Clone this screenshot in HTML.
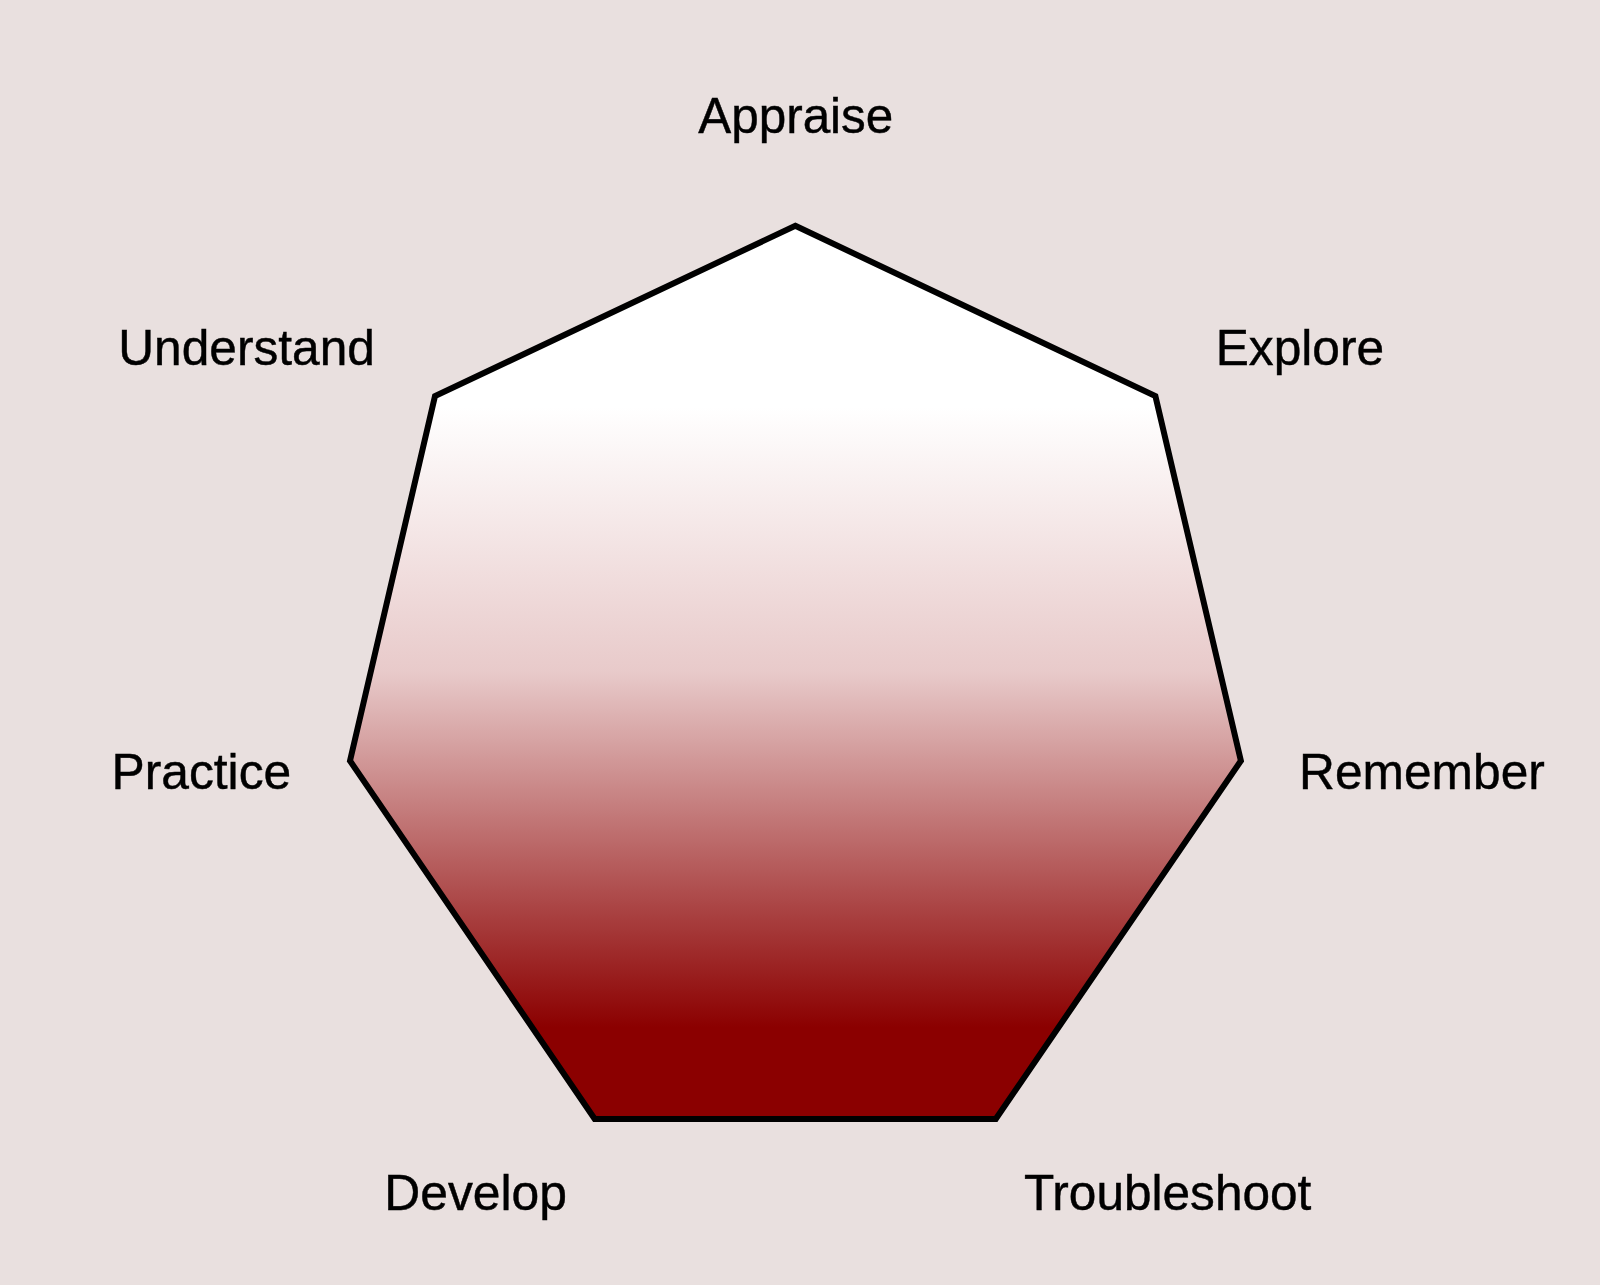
<!DOCTYPE html>
<html><head><meta charset="utf-8">
<style>
html,body{margin:0;padding:0;width:1600px;height:1285px;overflow:hidden;background:#E9E0DF;}
svg{display:block;position:absolute;left:0;top:0;}
text{font-family:"Liberation Sans",sans-serif;font-size:50.5px;fill:#000;stroke:#000;stroke-width:0.45px;}
</style></head>
<body>
<svg width="1600" height="1285" viewBox="0 0 1600 1285">
<defs>
<linearGradient id="g" gradientUnits="userSpaceOnUse" x1="0" y1="222" x2="0" y2="1122">
<stop offset="0" stop-color="#FFFFFF"/><stop offset="0.206" stop-color="#FFFFFF"/><stop offset="0.5" stop-color="#E8CACA"/><stop offset="0.895" stop-color="#8B0000"/><stop offset="1" stop-color="#8B0000"/>
</linearGradient>
</defs>
<polygon points="795.3,225.8 1155.4,396.1 1240.9,760.8 995.8,1119 594.7,1119 350,760.8 435,396.1" fill="url(#g)" stroke="#000" stroke-width="6" stroke-linejoin="miter" stroke-miterlimit="10"/>
<text x="698.30" y="133.20" textLength="194.94" lengthAdjust="spacingAndGlyphs">Appraise</text>
<text x="118.27" y="365.30" textLength="256.63" lengthAdjust="spacingAndGlyphs">Understand</text>
<text x="1215.68" y="365.00" textLength="168.43" lengthAdjust="spacingAndGlyphs">Explore</text>
<text x="111.52" y="789.10" textLength="179.69" lengthAdjust="spacingAndGlyphs">Practice</text>
<text x="1299.12" y="789.30" textLength="245.70" lengthAdjust="spacingAndGlyphs">Remember</text>
<text x="384.32" y="1209.90" textLength="182.68" lengthAdjust="spacingAndGlyphs">Develop</text>
<text x="1023.89" y="1209.60" textLength="287.47" lengthAdjust="spacingAndGlyphs">Troubleshoot</text>
</svg>
</body></html>
